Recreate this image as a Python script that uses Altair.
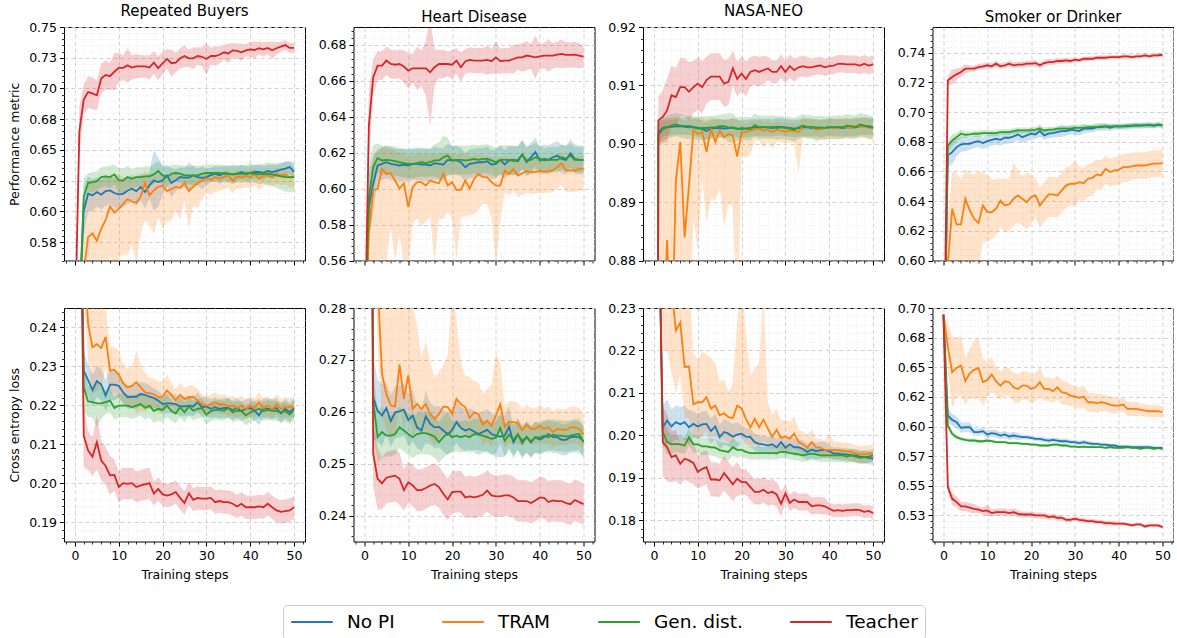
import altair as alt
import pandas as pd

steps = list(range(51))
methods = ["No PI", "TRAM", "Gen. dist.", "Teacher"]
palette = ["#1f77b4", "#ff7f0e", "#2ca02c", "#d62728"]
titles = ["Repeated Buyers", "Heart Disease", "NASA-NEO", "Smoker or Drinker"]
x_major = [0, 10, 20, 30, 40, 50]
x_minor = [-2, 2, 4, 6, 8, 12, 14, 16, 18, 22, 24, 26, 28, 32, 34, 36, 38, 42, 44, 46, 48, 52]

# ---------------- y ticks ----------------
rb_perf_ticks = [0.575, 0.600, 0.625, 0.650, 0.675, 0.700, 0.725, 0.750]
rb_perf_labels = ["0.58", "0.60", "0.62", "0.65", "0.68", "0.70", "0.73", "0.75"]
hd_perf_ticks = [0.56, 0.58, 0.60, 0.62, 0.64, 0.66, 0.68]
hd_perf_labels = ["0.56", "0.58", "0.60", "0.62", "0.64", "0.66", "0.68"]
nasa_perf_ticks = [0.88, 0.89, 0.90, 0.91, 0.92]
nasa_perf_labels = ["0.88", "0.89", "0.90", "0.91", "0.92"]
sd_perf_ticks = [0.60, 0.62, 0.64, 0.66, 0.68, 0.70, 0.72, 0.74]
sd_perf_labels = ["0.60", "0.62", "0.64", "0.66", "0.68", "0.70", "0.72", "0.74"]
rb_loss_ticks = [0.19, 0.20, 0.21, 0.22, 0.23, 0.24]
rb_loss_labels = ["0.19", "0.20", "0.21", "0.22", "0.23", "0.24"]
hd_loss_ticks = [0.24, 0.25, 0.26, 0.27, 0.28]
hd_loss_labels = ["0.24", "0.25", "0.26", "0.27", "0.28"]
nasa_loss_ticks = [0.18, 0.19, 0.20, 0.21, 0.22, 0.23]
nasa_loss_labels = ["0.18", "0.19", "0.20", "0.21", "0.22", "0.23"]
sd_loss_ticks = [0.525, 0.550, 0.575, 0.600, 0.625, 0.650, 0.675, 0.700]
sd_loss_labels = ["0.53", "0.55", "0.57", "0.60", "0.62", "0.65", "0.68", "0.70"]

# ---------------- Repeated Buyers: performance ----------------
rb_perf_nopi = [
    0.500, 0.520, 0.600, 0.6143, 0.6130, 0.6157, 0.6135, 0.6165, 0.6170, 0.6149,
    0.6138, 0.6143, 0.6170, 0.6184, 0.6165, 0.6197, 0.6157, 0.6211, 0.6252, 0.6238,
    0.6252, 0.6292, 0.6230, 0.6252, 0.6279, 0.6275, 0.6275, 0.6292, 0.6279, 0.6272,
    0.6279, 0.6295, 0.6306, 0.6292, 0.6312, 0.6306, 0.6300, 0.6306, 0.6320, 0.6306,
    0.6312, 0.6320, 0.6320, 0.6312, 0.6328, 0.6320, 0.6328, 0.6340, 0.6347, 0.6360,
    0.6320]
rb_perf_tram = [
    0.500, 0.520, 0.550, 0.579, 0.582, 0.576, 0.586, 0.593, 0.604, 0.599,
    0.602, 0.606, 0.610, 0.608, 0.607, 0.612, 0.623, 0.613, 0.617, 0.620,
    0.621, 0.6165, 0.618, 0.620, 0.619, 0.623, 0.6165, 0.620, 0.623, 0.625,
    0.627, 0.6255, 0.628, 0.6265, 0.628, 0.629, 0.625, 0.6285, 0.6275, 0.629,
    0.6275, 0.6305, 0.6265, 0.629, 0.629, 0.628, 0.6305, 0.629, 0.630, 0.6275,
    0.628]
rb_perf_gen = [
    0.500, 0.520, 0.612, 0.6230, 0.6238, 0.6245, 0.6279, 0.6285, 0.6279, 0.6301,
    0.6252, 0.6252, 0.6279, 0.6265, 0.6279, 0.6279, 0.6285, 0.6285, 0.6301, 0.6328,
    0.6292, 0.6279, 0.6306, 0.6312, 0.6306, 0.6292, 0.6292, 0.6292, 0.6292, 0.6306,
    0.6312, 0.6312, 0.6312, 0.6312, 0.6306, 0.6306, 0.6301, 0.6306, 0.6306, 0.6306,
    0.6312, 0.6306, 0.6301, 0.6306, 0.6306, 0.6301, 0.6292, 0.6285, 0.6279, 0.6279,
    0.6279]
rb_perf_teacher = [
    0.500, 0.665, 0.691, 0.697, 0.696, 0.6945, 0.708, 0.711, 0.710, 0.7136,
    0.7168, 0.7168, 0.7188, 0.717, 0.718, 0.718, 0.718, 0.717, 0.721, 0.7165,
    0.7205, 0.724, 0.7205, 0.721, 0.7245, 0.7264, 0.7245, 0.7245, 0.7264, 0.7258,
    0.724, 0.7264, 0.7264, 0.7274, 0.7294, 0.7285, 0.731, 0.7305, 0.7294, 0.731,
    0.7318, 0.7313, 0.7327, 0.7318, 0.733, 0.731, 0.7327, 0.734, 0.7353, 0.733,
    0.733]
rb_perf_nopi_sd = [
    0.020, 0.020, 0.020, 0.014, 0.013, 0.012, 0.012, 0.012, 0.011, 0.012,
    0.012, 0.011, 0.011, 0.011, 0.012, 0.011, 0.013, 0.011, 0.025, 0.020,
    0.012, 0.009, 0.012, 0.009, 0.008, 0.008, 0.012, 0.008, 0.007, 0.009,
    0.007, 0.006, 0.006, 0.007, 0.006, 0.006, 0.007, 0.006, 0.006, 0.006,
    0.006, 0.006, 0.006, 0.006, 0.005, 0.006, 0.005, 0.005, 0.006, 0.005,
    0.005]
rb_perf_tram_dn = [
    0.050, 0.050, 0.050, 0.040, 0.035, 0.040, 0.040, 0.040, 0.040, 0.045,
    0.040, 0.040, 0.045, 0.035, 0.050, 0.030, 0.030, 0.025, 0.035, 0.025,
    0.035, 0.025, 0.025, 0.020, 0.025, 0.015, 0.030, 0.015, 0.020, 0.015,
    0.012, 0.012, 0.012, 0.010, 0.010, 0.010, 0.010, 0.010, 0.009, 0.009,
    0.009, 0.009, 0.009, 0.008, 0.008, 0.008, 0.008, 0.008, 0.008, 0.008,
    0.008]
rb_perf_tram_up = [
    0.030, 0.030, 0.030, 0.045, 0.043, 0.050, 0.040, 0.035, 0.025, 0.030,
    0.028, 0.022, 0.018, 0.020, 0.020, 0.016, 0.010, 0.016, 0.012, 0.010,
    0.010, 0.013, 0.012, 0.010, 0.010, 0.008, 0.012, 0.009, 0.007, 0.006,
    0.005, 0.005, 0.005, 0.005, 0.005, 0.005, 0.006, 0.005, 0.005, 0.005,
    0.005, 0.005, 0.005, 0.005, 0.005, 0.005, 0.005, 0.005, 0.005, 0.005,
    0.005]
rb_perf_gen_sd = [
    0.020, 0.020, 0.015, 0.008, 0.008, 0.008, 0.008, 0.008, 0.009, 0.008,
    0.010, 0.010, 0.009, 0.008, 0.008, 0.008, 0.008, 0.008, 0.008, 0.008,
    0.008, 0.008, 0.007, 0.007, 0.007, 0.008, 0.007, 0.008, 0.008, 0.007,
    0.007, 0.007, 0.007, 0.007, 0.007, 0.007, 0.008, 0.007, 0.007, 0.007,
    0.008, 0.007, 0.008, 0.008, 0.009, 0.009, 0.010, 0.011, 0.012, 0.012,
    0.012]
rb_perf_teacher_sd = [
    0.010, 0.020, 0.012, 0.013, 0.013, 0.012, 0.012, 0.012, 0.011, 0.015,
    0.012, 0.010, 0.014, 0.010, 0.010, 0.009, 0.009, 0.010, 0.009, 0.010,
    0.009, 0.008, 0.011, 0.008, 0.008, 0.009, 0.007, 0.009, 0.007, 0.008,
    0.013, 0.007, 0.008, 0.007, 0.006, 0.008, 0.006, 0.006, 0.007, 0.005,
    0.006, 0.007, 0.005, 0.006, 0.005, 0.007, 0.005, 0.004, 0.004, 0.004,
    0.004]

# ---------------- Heart Disease: performance ----------------
hd_perf_nopi = [
    0.500, 0.590, 0.6027, 0.6129, 0.6138, 0.6147, 0.6138, 0.6134, 0.6129, 0.6134,
    0.6129, 0.6138, 0.6138, 0.6134, 0.6134, 0.6129, 0.6142, 0.6138, 0.6134, 0.6160,
    0.6157, 0.6157, 0.6147, 0.6119, 0.6138, 0.6142, 0.6147, 0.6147, 0.6153, 0.6134,
    0.6138, 0.6160, 0.6134, 0.6157, 0.6160, 0.6153, 0.6190, 0.6147, 0.6175, 0.6203,
    0.6157, 0.6166, 0.6160, 0.6175, 0.6184, 0.6166, 0.6160, 0.6197, 0.6166, 0.6160,
    0.6160]
hd_perf_tram = [
    0.500, 0.575, 0.599, 0.600, 0.611, 0.6082, 0.6086, 0.6045, 0.600, 0.603,
    0.5897, 0.6008, 0.6036, 0.6036, 0.6017, 0.6045, 0.6036, 0.603, 0.6082, 0.6017,
    0.6036, 0.5993, 0.5993, 0.6045, 0.600, 0.6054, 0.6082, 0.6064, 0.6064, 0.6036,
    0.6017, 0.6017, 0.6101, 0.6082, 0.611, 0.6073, 0.6086, 0.6097, 0.6092, 0.6092,
    0.6097, 0.6095, 0.6097, 0.6101, 0.612, 0.6142, 0.6101, 0.6101, 0.6101, 0.611,
    0.611]
hd_perf_gen = [
    0.500, 0.595, 0.612, 0.6171, 0.6157, 0.6160, 0.6157, 0.6153, 0.6147, 0.6142,
    0.6138, 0.6138, 0.6142, 0.6147, 0.6142, 0.6147, 0.6157, 0.6157, 0.6175, 0.6184,
    0.6157, 0.6160, 0.6160, 0.6157, 0.6160, 0.6166, 0.6160, 0.6166, 0.6166, 0.6157,
    0.6147, 0.6160, 0.6160, 0.6160, 0.6153, 0.6160, 0.6190, 0.6157, 0.6160, 0.6175,
    0.6166, 0.6157, 0.6160, 0.6160, 0.6160, 0.6175, 0.6166, 0.6184, 0.6160, 0.6160,
    0.6160]
hd_perf_teacher = [
    0.500, 0.635, 0.662, 0.6685, 0.6685, 0.6713, 0.6694, 0.669, 0.6694, 0.668,
    0.6657, 0.667, 0.667, 0.667, 0.667, 0.6648, 0.6676, 0.6694, 0.6694, 0.6694,
    0.669, 0.6713, 0.6676, 0.6708, 0.6717, 0.6713, 0.6713, 0.6713, 0.6717, 0.671,
    0.6731, 0.671, 0.6713, 0.6713, 0.6722, 0.6731, 0.6731, 0.6741, 0.6736, 0.6731,
    0.6736, 0.6741, 0.6741, 0.6741, 0.6746, 0.675, 0.6745, 0.6745, 0.6746, 0.6741,
    0.6735]
hd_perf_nopi_sd = [
    0.020, 0.020, 0.015, 0.009, 0.009, 0.009, 0.009, 0.009, 0.009, 0.009,
    0.009, 0.009, 0.009, 0.009, 0.009, 0.009, 0.009, 0.009, 0.009, 0.009,
    0.008, 0.008, 0.008, 0.008, 0.008, 0.008, 0.008, 0.008, 0.008, 0.008,
    0.008, 0.008, 0.008, 0.008, 0.008, 0.008, 0.008, 0.008, 0.008, 0.008,
    0.008, 0.008, 0.008, 0.008, 0.008, 0.008, 0.008, 0.008, 0.008, 0.008,
    0.008]
hd_perf_tram_dn = [
    0.040, 0.040, 0.040, 0.040, 0.050, 0.050, 0.030, 0.045, 0.025, 0.045,
    0.035, 0.020, 0.020, 0.025, 0.020, 0.020, 0.045, 0.020, 0.025, 0.015,
    0.020, 0.040, 0.015, 0.020, 0.015, 0.020, 0.020, 0.015, 0.015, 0.020,
    0.045, 0.020, 0.012, 0.012, 0.012, 0.012, 0.012, 0.012, 0.012, 0.012,
    0.012, 0.012, 0.012, 0.012, 0.012, 0.012, 0.012, 0.012, 0.012, 0.012,
    0.012]
hd_perf_tram_up = [
    0.020, 0.020, 0.020, 0.020, 0.012, 0.014, 0.014, 0.016, 0.020, 0.017,
    0.028, 0.018, 0.016, 0.016, 0.018, 0.015, 0.016, 0.016, 0.012, 0.018,
    0.016, 0.020, 0.020, 0.015, 0.018, 0.013, 0.011, 0.012, 0.012, 0.014,
    0.016, 0.016, 0.008, 0.009, 0.007, 0.009, 0.008, 0.008, 0.008, 0.008,
    0.008, 0.008, 0.008, 0.008, 0.007, 0.006, 0.007, 0.007, 0.007, 0.007,
    0.007]
hd_perf_gen_sd = [
    0.020, 0.020, 0.012, 0.008, 0.008, 0.008, 0.008, 0.008, 0.008, 0.008,
    0.008, 0.008, 0.008, 0.008, 0.008, 0.008, 0.009, 0.010, 0.012, 0.010,
    0.008, 0.008, 0.008, 0.008, 0.008, 0.008, 0.008, 0.008, 0.008, 0.008,
    0.008, 0.008, 0.008, 0.008, 0.008, 0.008, 0.008, 0.008, 0.008, 0.008,
    0.007, 0.007, 0.007, 0.007, 0.007, 0.007, 0.007, 0.007, 0.007, 0.007,
    0.007]
hd_perf_teacher_sd = [
    0.010, 0.020, 0.010, 0.008, 0.008, 0.008, 0.008, 0.008, 0.008, 0.009,
    0.010, 0.008, 0.012, 0.010, 0.015, 0.030, 0.010, 0.008, 0.008, 0.007,
    0.008, 0.007, 0.008, 0.007, 0.007, 0.007, 0.007, 0.007, 0.008, 0.007,
    0.009, 0.007, 0.007, 0.007, 0.008, 0.007, 0.008, 0.008, 0.007, 0.012,
    0.007, 0.007, 0.009, 0.007, 0.007, 0.008, 0.007, 0.007, 0.007, 0.007,
    0.006]

# ---------------- NASA-NEO: performance ----------------
nasa_perf_nopi = [
    0.500, 0.9020, 0.9027, 0.9029, 0.9029, 0.9030, 0.9030, 0.9030, 0.9030, 0.9029,
    0.9027, 0.9025, 0.9022, 0.9026, 0.9027, 0.9027, 0.9026, 0.9027, 0.9028, 0.9026,
    0.9025, 0.9026, 0.9027, 0.9028, 0.9028, 0.9028, 0.9028, 0.9027, 0.9029, 0.9029,
    0.9028, 0.9027, 0.9026, 0.9027, 0.9028, 0.9028, 0.9027, 0.9028, 0.9026, 0.9027,
    0.9029, 0.9028, 0.9028, 0.9027, 0.9028, 0.9028, 0.9028, 0.9030, 0.9030, 0.9030,
    0.9029]
nasa_perf_tram = [
    0.500, 0.860, 0.865, 0.8835, 0.862, 0.8937, 0.9003, 0.884, 0.893, 0.9023,
    0.9017, 0.902, 0.8986, 0.9026, 0.9003, 0.9023, 0.9011, 0.9017, 0.9014, 0.8978,
    0.902, 0.902, 0.9023, 0.9024, 0.9026, 0.9022, 0.9024, 0.902, 0.9024, 0.9022,
    0.9021, 0.9022, 0.9022, 0.902, 0.9031, 0.9029, 0.9029, 0.9024, 0.9026, 0.9027,
    0.9028, 0.9028, 0.9027, 0.9029, 0.9029, 0.9027, 0.9031, 0.9029, 0.9031, 0.9027,
    0.9029]
nasa_perf_gen = [
    0.500, 0.9015, 0.9025, 0.9028, 0.9031, 0.9033, 0.9031, 0.9029, 0.9028, 0.9028,
    0.9026, 0.9027, 0.9027, 0.9028, 0.9028, 0.9030, 0.9030, 0.9028, 0.9027, 0.9025,
    0.9027, 0.9026, 0.9025, 0.9032, 0.9028, 0.9029, 0.9028, 0.9029, 0.9027, 0.9028,
    0.9027, 0.9026, 0.9024, 0.9028, 0.9031, 0.9029, 0.9029, 0.9027, 0.9028, 0.9027,
    0.9028, 0.9028, 0.9029, 0.9028, 0.9031, 0.9030, 0.9028, 0.9033, 0.9031, 0.9029,
    0.9027]
nasa_perf_teacher = [
    0.500, 0.9040, 0.9046, 0.9057, 0.9083, 0.9080, 0.9097, 0.9097, 0.9089, 0.9097,
    0.9103, 0.9097, 0.9109, 0.9115, 0.9115, 0.9115, 0.9103, 0.9106, 0.9129, 0.9111,
    0.9120, 0.9111, 0.9123, 0.9126, 0.9123, 0.9126, 0.9129, 0.9123, 0.9123, 0.9133,
    0.9123, 0.9133, 0.9126, 0.9131, 0.9133, 0.9131, 0.9131, 0.9133, 0.9134, 0.9131,
    0.9133, 0.9134, 0.9137, 0.9137, 0.9136, 0.9136, 0.9136, 0.9134, 0.9137, 0.9134,
    0.9136]
nasa_perf_nopi_sd = [
    0.002, 0.002, 0.0015, 0.0015, 0.0015, 0.0015, 0.0015, 0.0015, 0.0015, 0.0015,
    0.0015, 0.0015, 0.0015, 0.0015, 0.0015, 0.0015, 0.0015, 0.0015, 0.0015, 0.0015,
    0.0015, 0.0015, 0.0015, 0.0015, 0.0015, 0.0015, 0.0015, 0.0015, 0.0015, 0.0015,
    0.0015, 0.0015, 0.0015, 0.0015, 0.0015, 0.0015, 0.0015, 0.0015, 0.0015, 0.0015,
    0.0015, 0.0015, 0.0015, 0.0015, 0.0015, 0.0015, 0.0015, 0.0015, 0.0015, 0.0015,
    0.0015]
nasa_perf_tram_dn = [
    0.050, 0.030, 0.030, 0.030, 0.030, 0.030, 0.030, 0.030, 0.030, 0.015,
    0.020, 0.008, 0.012, 0.012, 0.010, 0.010, 0.015, 0.012, 0.012, 0.030,
    0.004, 0.0045, 0.004, 0.002, 0.002, 0.003, 0.002, 0.003, 0.002, 0.002,
    0.002, 0.002, 0.002, 0.007, 0.002, 0.002, 0.002, 0.002, 0.002, 0.002,
    0.002, 0.002, 0.002, 0.002, 0.002, 0.002, 0.002, 0.002, 0.002, 0.002,
    0.002]
nasa_perf_tram_up = [
    0.010, 0.044, 0.039, 0.0205, 0.042, 0.0105, 0.004, 0.020, 0.011, 0.002,
    0.003, 0.0025, 0.0055, 0.002, 0.004, 0.002, 0.003, 0.0025, 0.003, 0.0065,
    0.0015, 0.0015, 0.0015, 0.0015, 0.0015, 0.0015, 0.0015, 0.0015, 0.0015, 0.0015,
    0.0015, 0.0015, 0.0015, 0.0015, 0.0015, 0.0015, 0.0015, 0.0015, 0.0015, 0.0015,
    0.0015, 0.0015, 0.0015, 0.0015, 0.0015, 0.0015, 0.0015, 0.0015, 0.0015, 0.0015,
    0.0015]
nasa_perf_gen_sd = [
    0.002, 0.002, 0.002, 0.002, 0.002, 0.002, 0.002, 0.002, 0.002, 0.002,
    0.002, 0.002, 0.002, 0.002, 0.002, 0.002, 0.002, 0.0025, 0.0025, 0.002,
    0.002, 0.002, 0.002, 0.002, 0.002, 0.002, 0.002, 0.002, 0.002, 0.002,
    0.002, 0.002, 0.002, 0.002, 0.002, 0.002, 0.002, 0.002, 0.002, 0.002,
    0.002, 0.002, 0.002, 0.002, 0.002, 0.002, 0.002, 0.002, 0.002, 0.002,
    0.002]
nasa_perf_teacher_sd = [
    0.003, 0.004, 0.0045, 0.0055, 0.005, 0.005, 0.005, 0.005, 0.005, 0.0045,
    0.0045, 0.0045, 0.004, 0.004, 0.004, 0.004, 0.004, 0.004, 0.003, 0.003,
    0.003, 0.003, 0.0025, 0.0025, 0.0025, 0.0025, 0.002, 0.002, 0.002, 0.002,
    0.002, 0.002, 0.002, 0.0018, 0.0018, 0.0018, 0.0015, 0.0015, 0.0015, 0.0015,
    0.0015, 0.0015, 0.0015, 0.0015, 0.0015, 0.0015, 0.0015, 0.0015, 0.0015, 0.0015,
    0.0015]

# ---------------- Smoker or Drinker: performance ----------------
sd_perf_nopi = [
    0.500, 0.6708, 0.6730, 0.6764, 0.6782, 0.6786, 0.6786, 0.6798, 0.6804, 0.6791,
    0.6804, 0.6813, 0.6820, 0.6813, 0.6827, 0.6827, 0.6836, 0.6849, 0.6831, 0.6843,
    0.6854, 0.6849, 0.6872, 0.6843, 0.6854, 0.6858, 0.6865, 0.6872, 0.6872, 0.6881,
    0.6876, 0.6872, 0.6888, 0.6888, 0.6888, 0.6899, 0.6899, 0.6903, 0.6894, 0.6903,
    0.6903, 0.6903, 0.6903, 0.6908, 0.6910, 0.6908, 0.6912, 0.6915, 0.6908, 0.6917,
    0.6908]
sd_perf_tram = [
    0.500, 0.598, 0.6348, 0.6243, 0.6243, 0.6416, 0.6337, 0.6281, 0.6252, 0.6371,
    0.6326, 0.6326, 0.6348, 0.6404, 0.6371, 0.6377, 0.6416, 0.6438, 0.6416, 0.6393,
    0.6427, 0.6438, 0.6371, 0.6409, 0.6445, 0.6445, 0.6438, 0.6472, 0.6506, 0.6517,
    0.6517, 0.6528, 0.6521, 0.6551, 0.6557, 0.6580, 0.6573, 0.6618, 0.6596, 0.6607,
    0.6611, 0.6629, 0.6629, 0.6634, 0.6640, 0.6640, 0.6640, 0.6647, 0.6652, 0.6652,
    0.6656]
sd_perf_gen = [
    0.500, 0.6771, 0.6809, 0.6831, 0.6854, 0.6847, 0.6849, 0.6854, 0.6854, 0.6858,
    0.6858, 0.6858, 0.6858, 0.6865, 0.6865, 0.6865, 0.6872, 0.6876, 0.6876, 0.6876,
    0.6876, 0.6881, 0.6888, 0.6876, 0.6881, 0.6881, 0.6888, 0.6888, 0.6888, 0.6888,
    0.6894, 0.6894, 0.6894, 0.6899, 0.6899, 0.6899, 0.6903, 0.6903, 0.6903, 0.6903,
    0.6903, 0.6903, 0.6908, 0.6908, 0.6910, 0.6910, 0.6910, 0.6910, 0.6910, 0.6912,
    0.6912]
sd_perf_teacher = [
    0.500, 0.7213, 0.7236, 0.7254, 0.7270, 0.7292, 0.7292, 0.7292, 0.7303, 0.7308,
    0.7315, 0.7308, 0.7326, 0.7308, 0.7315, 0.7326, 0.7315, 0.7320, 0.7320, 0.7326,
    0.7326, 0.7330, 0.7315, 0.7330, 0.7337, 0.7337, 0.7344, 0.7344, 0.7348, 0.7344,
    0.7353, 0.7348, 0.7359, 0.7359, 0.7359, 0.7366, 0.7366, 0.7366, 0.7370, 0.7370,
    0.7370, 0.7375, 0.7375, 0.7370, 0.7375, 0.7375, 0.7382, 0.7375, 0.7382, 0.7382,
    0.7386]
sd_perf_nopi_sd = [
    0.010, 0.008, 0.008, 0.006, 0.005, 0.005, 0.004, 0.004, 0.004, 0.004,
    0.004, 0.004, 0.004, 0.004, 0.004, 0.004, 0.004, 0.004, 0.004, 0.004,
    0.004, 0.003, 0.004, 0.003, 0.003, 0.003, 0.003, 0.004, 0.003, 0.003,
    0.003, 0.003, 0.003, 0.0025, 0.0025, 0.0025, 0.0025, 0.0025, 0.002, 0.002,
    0.002, 0.002, 0.002, 0.002, 0.002, 0.002, 0.002, 0.002, 0.002, 0.002,
    0.002]
sd_perf_tram_dn = [
    0.030, 0.030, 0.035, 0.030, 0.030, 0.040, 0.035, 0.035, 0.030, 0.025,
    0.020, 0.018, 0.018, 0.018, 0.018, 0.018, 0.018, 0.018, 0.018, 0.018,
    0.018, 0.015, 0.015, 0.015, 0.015, 0.015, 0.015, 0.015, 0.015, 0.015,
    0.015, 0.012, 0.012, 0.012, 0.012, 0.010, 0.010, 0.010, 0.010, 0.010,
    0.010, 0.010, 0.010, 0.009, 0.009, 0.009, 0.009, 0.009, 0.009, 0.009,
    0.009]
sd_perf_tram_up = [
    0.030, 0.030, 0.025, 0.035, 0.030, 0.020, 0.025, 0.030, 0.035, 0.022,
    0.025, 0.022, 0.020, 0.015, 0.018, 0.017, 0.024, 0.017, 0.015, 0.020,
    0.015, 0.012, 0.012, 0.012, 0.012, 0.012, 0.012, 0.012, 0.012, 0.012,
    0.016, 0.010, 0.010, 0.010, 0.010, 0.010, 0.010, 0.009, 0.009, 0.009,
    0.009, 0.009, 0.009, 0.009, 0.009, 0.009, 0.009, 0.009, 0.009, 0.009,
    0.009]
sd_perf_gen_sd = [
    0.005, 0.004, 0.004, 0.003, 0.003, 0.002, 0.002, 0.002, 0.002, 0.002,
    0.002, 0.002, 0.002, 0.002, 0.002, 0.002, 0.002, 0.002, 0.002, 0.002,
    0.002, 0.002, 0.002, 0.002, 0.002, 0.002, 0.002, 0.002, 0.002, 0.002,
    0.002, 0.002, 0.002, 0.0015, 0.0015, 0.0015, 0.0015, 0.0015, 0.0015, 0.0015,
    0.0015, 0.0015, 0.0015, 0.0015, 0.0015, 0.0015, 0.0015, 0.0015, 0.0015, 0.0015,
    0.0015]
sd_perf_teacher_sd = [
    0.004, 0.003, 0.005, 0.004, 0.003, 0.003, 0.002, 0.002, 0.002, 0.002,
    0.002, 0.002, 0.002, 0.002, 0.002, 0.002, 0.002, 0.002, 0.002, 0.002,
    0.002, 0.002, 0.002, 0.002, 0.002, 0.0018, 0.0018, 0.0018, 0.0018, 0.0018,
    0.0015, 0.0015, 0.0015, 0.0015, 0.0015, 0.0015, 0.0015, 0.0015, 0.0015, 0.0015,
    0.0015, 0.0015, 0.0015, 0.0015, 0.0015, 0.0015, 0.0015, 0.0015, 0.0015, 0.0015,
    0.0015]

# ---------------- Repeated Buyers: loss ----------------
rb_loss_nopi = [
    0.600, 0.300, 0.2289, 0.2265, 0.2239, 0.2262, 0.2253, 0.2225, 0.2253, 0.2253,
    0.2250, 0.2233, 0.2221, 0.2222, 0.2222, 0.2229, 0.2227, 0.2222, 0.2219, 0.2212,
    0.2203, 0.2205, 0.2205, 0.2203, 0.2197, 0.2197, 0.2199, 0.2197, 0.2208, 0.2195,
    0.2197, 0.2191, 0.2195, 0.2191, 0.2193, 0.2193, 0.2188, 0.2193, 0.2185, 0.2191,
    0.2193, 0.2186, 0.2174, 0.2193, 0.2191, 0.2191, 0.2193, 0.2179, 0.2191, 0.2182,
    0.2193]
rb_loss_tram = [
    0.600, 0.320, 0.260, 0.2409, 0.2349, 0.2357, 0.2347, 0.2376, 0.2289, 0.2291,
    0.2279, 0.2256, 0.2246, 0.2250, 0.2259, 0.2246, 0.2233, 0.2231, 0.2229, 0.2221,
    0.2222, 0.2238, 0.2227, 0.2212, 0.2227, 0.2216, 0.2221, 0.2222, 0.2212, 0.2203,
    0.2199, 0.2202, 0.2208, 0.2202, 0.2203, 0.2197, 0.2199, 0.2193, 0.2199, 0.2188,
    0.2199, 0.2193, 0.2208, 0.2193, 0.2199, 0.2188, 0.2203, 0.2191, 0.2195, 0.2195,
    0.2195]
rb_loss_gen = [
    0.600, 0.300, 0.2246, 0.2210, 0.2208, 0.2205, 0.2205, 0.2208, 0.2212, 0.2193,
    0.2199, 0.2199, 0.2199, 0.2195, 0.2199, 0.2203, 0.2193, 0.2199, 0.2185, 0.2191,
    0.2188, 0.2199, 0.2186, 0.2179, 0.2195, 0.2182, 0.2197, 0.2186, 0.2191, 0.2193,
    0.2176, 0.2185, 0.2188, 0.2188, 0.2186, 0.2193, 0.2182, 0.2186, 0.2185, 0.2174,
    0.2182, 0.2186, 0.2191, 0.2185, 0.2188, 0.2186, 0.2185, 0.2182, 0.2185, 0.2176,
    0.2188]
rb_loss_teacher = [
    0.600, 0.300, 0.2122, 0.2084, 0.2068, 0.2105, 0.2058, 0.2044, 0.2020, 0.2021,
    0.1990, 0.2000, 0.1998, 0.2000, 0.1990, 0.1994, 0.1997, 0.2000, 0.1973, 0.1985,
    0.1971, 0.1968, 0.1971, 0.1977, 0.1962, 0.1949, 0.1974, 0.1957, 0.1962, 0.1960,
    0.1960, 0.1962, 0.1951, 0.1954, 0.1951, 0.1951, 0.1947, 0.1940, 0.1947, 0.1938,
    0.1938, 0.1938, 0.1940, 0.1938, 0.1947, 0.1938, 0.1930, 0.1926, 0.1928, 0.1930,
    0.1938]
rb_loss_nopi_sd = [
    0.010, 0.010, 0.005, 0.004, 0.004, 0.004, 0.004, 0.004, 0.004, 0.004,
    0.003, 0.003, 0.003, 0.003, 0.003, 0.003, 0.003, 0.003, 0.0025, 0.0025,
    0.0025, 0.0025, 0.0025, 0.0025, 0.0025, 0.0025, 0.0025, 0.0025, 0.0025, 0.0025,
    0.0025, 0.0025, 0.0025, 0.0025, 0.0025, 0.0025, 0.0025, 0.0025, 0.0025, 0.0025,
    0.0025, 0.0025, 0.0025, 0.0025, 0.0025, 0.0025, 0.0025, 0.0025, 0.0025, 0.0025,
    0.0025]
rb_loss_tram_sd = [
    0.010, 0.010, 0.010, 0.010, 0.012, 0.012, 0.010, 0.008, 0.006, 0.006,
    0.006, 0.005, 0.005, 0.005, 0.008, 0.006, 0.005, 0.004, 0.004, 0.004,
    0.004, 0.004, 0.003, 0.003, 0.003, 0.003, 0.003, 0.003, 0.003, 0.0025,
    0.0025, 0.0025, 0.0025, 0.0025, 0.0025, 0.0025, 0.0025, 0.0025, 0.0025, 0.0025,
    0.0025, 0.0025, 0.0025, 0.0025, 0.0025, 0.0025, 0.0025, 0.0025, 0.0025, 0.0025,
    0.0025]
rb_loss_gen_sd = [
    0.010, 0.010, 0.006, 0.004, 0.004, 0.006, 0.004, 0.003, 0.003, 0.003,
    0.003, 0.003, 0.003, 0.003, 0.003, 0.003, 0.003, 0.003, 0.003, 0.003,
    0.003, 0.003, 0.0025, 0.0025, 0.0025, 0.0025, 0.0025, 0.0025, 0.0025, 0.0025,
    0.0025, 0.0025, 0.0025, 0.0025, 0.0025, 0.0025, 0.0025, 0.0025, 0.0025, 0.0025,
    0.0025, 0.0025, 0.0025, 0.0025, 0.0025, 0.0025, 0.0025, 0.0025, 0.0025, 0.0025,
    0.0025]
rb_loss_teacher_sd = [
    0.010, 0.010, 0.008, 0.005, 0.005, 0.007, 0.005, 0.005, 0.005, 0.004,
    0.004, 0.004, 0.004, 0.004, 0.004, 0.004, 0.004, 0.004, 0.003, 0.003,
    0.003, 0.003, 0.003, 0.003, 0.003, 0.003, 0.003, 0.003, 0.003, 0.003,
    0.003, 0.003, 0.003, 0.003, 0.003, 0.003, 0.003, 0.003, 0.003, 0.003,
    0.003, 0.003, 0.003, 0.003, 0.003, 0.003, 0.003, 0.003, 0.003, 0.003,
    0.003]

# ---------------- Heart Disease: loss ----------------
hd_loss_nopi = [
    0.690, 0.400, 0.2628, 0.2602, 0.2593, 0.2607, 0.2582, 0.2599, 0.2601, 0.2604,
    0.2584, 0.2593, 0.2570, 0.2564, 0.2591, 0.2577, 0.2570, 0.2571, 0.2564, 0.2556,
    0.2565, 0.2580, 0.2569, 0.2564, 0.2567, 0.2562, 0.2557, 0.2561, 0.2565, 0.2557,
    0.2554, 0.2552, 0.2554, 0.2571, 0.2541, 0.2556, 0.2544, 0.2551, 0.2541, 0.2551,
    0.2546, 0.2551, 0.2557, 0.2551, 0.2551, 0.2546, 0.2546, 0.2551, 0.2552, 0.2551,
    0.2544]
hd_loss_tram = [
    0.690, 0.450, 0.320, 0.285, 0.2673, 0.2634, 0.2612, 0.2610, 0.2691, 0.2625,
    0.2670, 0.2605, 0.2615, 0.2605, 0.2615, 0.2596, 0.2586, 0.2596, 0.2610, 0.2609,
    0.2596, 0.2625, 0.2615, 0.2609, 0.2588, 0.2599, 0.2596, 0.2575, 0.2583, 0.2573,
    0.2593, 0.2614, 0.2571, 0.2580, 0.2580, 0.2578, 0.2564, 0.2575, 0.2567, 0.2567,
    0.2573, 0.2567, 0.2570, 0.2561, 0.2567, 0.2565, 0.2565, 0.2570, 0.2570, 0.2567,
    0.2557]
hd_loss_gen = [
    0.690, 0.400, 0.2620, 0.2551, 0.2561, 0.2554, 0.2554, 0.2557, 0.2570, 0.2564,
    0.2557, 0.2551, 0.2557, 0.2559, 0.2559, 0.2556, 0.2552, 0.2541, 0.2551, 0.2559,
    0.2551, 0.2554, 0.2551, 0.2554, 0.2551, 0.2557, 0.2556, 0.2554, 0.2551, 0.2548,
    0.2550, 0.2569, 0.2544, 0.2556, 0.2546, 0.2557, 0.2539, 0.2552, 0.2543, 0.2551,
    0.2550, 0.2554, 0.2551, 0.2556, 0.2554, 0.2554, 0.2552, 0.2554, 0.2556, 0.2557,
    0.2541]
hd_loss_teacher = [
    0.690, 0.400, 0.2519, 0.2471, 0.2462, 0.2473, 0.2475, 0.2477, 0.2471, 0.2449,
    0.2464, 0.2458, 0.2449, 0.2449, 0.2453, 0.2458, 0.2461, 0.2455, 0.2442, 0.2431,
    0.2445, 0.2446, 0.2446, 0.2435, 0.2437, 0.2435, 0.2437, 0.2440, 0.2448, 0.2439,
    0.2437, 0.2437, 0.2439, 0.2439, 0.2435, 0.2428, 0.2428, 0.2428, 0.2424, 0.2429,
    0.2435, 0.2434, 0.2426, 0.2429, 0.2428, 0.2428, 0.2424, 0.2422, 0.2430, 0.2426,
    0.2422]
hd_loss_nopi_sd = [
    0.010, 0.010, 0.008, 0.006, 0.006, 0.005, 0.005, 0.005, 0.005, 0.005,
    0.005, 0.005, 0.004, 0.004, 0.005, 0.004, 0.004, 0.004, 0.004, 0.004,
    0.004, 0.004, 0.004, 0.004, 0.004, 0.004, 0.004, 0.004, 0.004, 0.004,
    0.004, 0.004, 0.004, 0.004, 0.003, 0.003, 0.003, 0.003, 0.003, 0.003,
    0.003, 0.003, 0.003, 0.003, 0.003, 0.003, 0.003, 0.003, 0.003, 0.003,
    0.003]
hd_loss_tram_dn = [
    0.020, 0.020, 0.020, 0.012, 0.008, 0.007, 0.006, 0.006, 0.008, 0.006,
    0.007, 0.005, 0.005, 0.005, 0.005, 0.005, 0.005, 0.005, 0.005, 0.005,
    0.005, 0.005, 0.005, 0.005, 0.004, 0.004, 0.004, 0.004, 0.004, 0.004,
    0.004, 0.005, 0.004, 0.004, 0.004, 0.004, 0.003, 0.003, 0.003, 0.003,
    0.003, 0.003, 0.003, 0.003, 0.003, 0.003, 0.003, 0.003, 0.003, 0.003,
    0.003]
hd_loss_tram_up = [
    0.020, 0.020, 0.030, 0.030, 0.030, 0.025, 0.025, 0.025, 0.020, 0.025,
    0.020, 0.020, 0.015, 0.010, 0.012, 0.010, 0.008, 0.008, 0.008, 0.010,
    0.025, 0.015, 0.008, 0.006, 0.008, 0.006, 0.006, 0.006, 0.006, 0.008,
    0.012, 0.008, 0.004, 0.004, 0.004, 0.004, 0.004, 0.004, 0.004, 0.004,
    0.004, 0.004, 0.004, 0.004, 0.004, 0.004, 0.004, 0.004, 0.004, 0.004,
    0.004]
hd_loss_gen_sd = [
    0.010, 0.010, 0.006, 0.005, 0.005, 0.004, 0.004, 0.004, 0.004, 0.004,
    0.004, 0.004, 0.004, 0.004, 0.004, 0.004, 0.004, 0.004, 0.004, 0.004,
    0.003, 0.003, 0.003, 0.003, 0.003, 0.003, 0.003, 0.003, 0.003, 0.003,
    0.003, 0.003, 0.003, 0.003, 0.003, 0.003, 0.003, 0.003, 0.003, 0.003,
    0.003, 0.003, 0.003, 0.003, 0.003, 0.003, 0.003, 0.003, 0.003, 0.003,
    0.003]
hd_loss_teacher_sd = [
    0.010, 0.010, 0.006, 0.006, 0.005, 0.005, 0.005, 0.005, 0.005, 0.004,
    0.004, 0.004, 0.004, 0.004, 0.004, 0.004, 0.004, 0.004, 0.004, 0.004,
    0.004, 0.004, 0.004, 0.004, 0.004, 0.004, 0.004, 0.004, 0.004, 0.004,
    0.004, 0.004, 0.004, 0.004, 0.004, 0.004, 0.004, 0.004, 0.004, 0.004,
    0.004, 0.004, 0.004, 0.004, 0.004, 0.004, 0.004, 0.004, 0.004, 0.004,
    0.004]

# ---------------- NASA-NEO: loss ----------------
nasa_loss_nopi = [
    0.690, 0.260, 0.2019, 0.2035, 0.2021, 0.2031, 0.2026, 0.2031, 0.2019, 0.2027,
    0.2021, 0.2026, 0.2027, 0.2010, 0.2021, 0.1996, 0.2008, 0.2004, 0.1997, 0.2002,
    0.2004, 0.1997, 0.1996, 0.1984, 0.1980, 0.1979, 0.1976, 0.1979, 0.1972, 0.1984,
    0.1971, 0.1979, 0.1972, 0.1972, 0.1968, 0.1961, 0.1966, 0.1963, 0.1965, 0.1966,
    0.1963, 0.1957, 0.1957, 0.1955, 0.1955, 0.1953, 0.1953, 0.1950, 0.1949, 0.1947,
    0.1945]
nasa_loss_tram = [
    0.690, 0.300, 0.270, 0.250, 0.235, 0.2247, 0.2266, 0.2161, 0.2162, 0.2073,
    0.2078, 0.2078, 0.2090, 0.2063, 0.2070, 0.2047, 0.2052, 0.2043, 0.2041, 0.2070,
    0.2063, 0.2039, 0.2019, 0.2039, 0.2019, 0.2037, 0.2016, 0.1997, 0.2013, 0.1994,
    0.1997, 0.1992, 0.2004, 0.1984, 0.1979, 0.1971, 0.1984, 0.1972, 0.1971, 0.1966,
    0.1966, 0.1965, 0.1965, 0.1963, 0.1963, 0.1961, 0.1957, 0.1955, 0.1955, 0.1957,
    0.1958]
nasa_loss_gen = [
    0.690, 0.260, 0.2008, 0.1984, 0.1979, 0.1980, 0.1979, 0.1976, 0.1996, 0.1979,
    0.1979, 0.1974, 0.1974, 0.1972, 0.1971, 0.1965, 0.1963, 0.1961, 0.1972, 0.1966,
    0.1966, 0.1961, 0.1958, 0.1958, 0.1958, 0.1958, 0.1958, 0.1958, 0.1958, 0.1961,
    0.1961, 0.1958, 0.1957, 0.1955, 0.1953, 0.1955, 0.1957, 0.1955, 0.1953, 0.1953,
    0.1953, 0.1953, 0.1953, 0.1953, 0.1950, 0.1953, 0.1950, 0.1947, 0.1949, 0.1950,
    0.1953]
nasa_loss_teacher = [
    0.690, 0.260, 0.1984, 0.1972, 0.1949, 0.1953, 0.1933, 0.1945, 0.1941, 0.1935,
    0.1914, 0.1921, 0.1925, 0.1896, 0.1896, 0.1894, 0.1911, 0.1898, 0.1885, 0.1898,
    0.1890, 0.1890, 0.1878, 0.1867, 0.1867, 0.1872, 0.1864, 0.1867, 0.1861, 0.1839,
    0.1863, 0.1841, 0.1849, 0.1843, 0.1843, 0.1843, 0.1833, 0.1835, 0.1835, 0.1833,
    0.1827, 0.1822, 0.1824, 0.1822, 0.1824, 0.1824, 0.1825, 0.1824, 0.1820, 0.1822,
    0.1817]
nasa_loss_nopi_sd = [
    0.010, 0.010, 0.005, 0.005, 0.004, 0.004, 0.004, 0.004, 0.004, 0.003,
    0.003, 0.003, 0.003, 0.003, 0.003, 0.003, 0.003, 0.003, 0.003, 0.003,
    0.002, 0.002, 0.002, 0.002, 0.002, 0.002, 0.002, 0.002, 0.002, 0.002,
    0.002, 0.002, 0.002, 0.002, 0.002, 0.002, 0.002, 0.002, 0.002, 0.002,
    0.0015, 0.0015, 0.0015, 0.0015, 0.0015, 0.0015, 0.0015, 0.0015, 0.0015, 0.0015,
    0.0015]
nasa_loss_tram_dn = [
    0.050, 0.050, 0.050, 0.030, 0.020, 0.015, 0.012, 0.012, 0.012, 0.008,
    0.008, 0.008, 0.008, 0.007, 0.007, 0.006, 0.006, 0.006, 0.006, 0.007,
    0.007, 0.006, 0.005, 0.006, 0.005, 0.005, 0.004, 0.003, 0.004, 0.003,
    0.003, 0.003, 0.003, 0.002, 0.002, 0.002, 0.002, 0.002, 0.002, 0.002,
    0.002, 0.002, 0.002, 0.002, 0.002, 0.002, 0.002, 0.002, 0.002, 0.002,
    0.002]
nasa_loss_tram_up = [
    0.020, 0.020, 0.020, 0.020, 0.020, 0.020, 0.020, 0.020, 0.020, 0.012,
    0.010, 0.012, 0.010, 0.012, 0.010, 0.008, 0.008, 0.006, 0.008, 0.020,
    0.030, 0.020, 0.012, 0.012, 0.015, 0.030, 0.006, 0.005, 0.005, 0.004,
    0.004, 0.004, 0.004, 0.003, 0.003, 0.003, 0.003, 0.002, 0.002, 0.002,
    0.004, 0.002, 0.002, 0.002, 0.002, 0.002, 0.002, 0.002, 0.002, 0.002,
    0.002]
nasa_loss_gen_sd = [
    0.010, 0.010, 0.003, 0.003, 0.002, 0.002, 0.002, 0.002, 0.002, 0.002,
    0.002, 0.002, 0.002, 0.002, 0.002, 0.002, 0.002, 0.002, 0.002, 0.002,
    0.0015, 0.0015, 0.0015, 0.0015, 0.0015, 0.0015, 0.0015, 0.0015, 0.0015, 0.0015,
    0.0015, 0.0015, 0.0015, 0.0015, 0.0015, 0.0015, 0.0015, 0.0015, 0.0015, 0.0015,
    0.0015, 0.0015, 0.0015, 0.0015, 0.0015, 0.0015, 0.0015, 0.0015, 0.0015, 0.0015,
    0.0015]
nasa_loss_teacher_sd = [
    0.010, 0.010, 0.008, 0.008, 0.006, 0.006, 0.005, 0.005, 0.005, 0.005,
    0.004, 0.004, 0.004, 0.004, 0.004, 0.004, 0.004, 0.004, 0.004, 0.004,
    0.003, 0.003, 0.003, 0.003, 0.003, 0.003, 0.003, 0.003, 0.003, 0.003,
    0.002, 0.002, 0.002, 0.002, 0.002, 0.002, 0.002, 0.002, 0.002, 0.002,
    0.0015, 0.0015, 0.0015, 0.0015, 0.0015, 0.0015, 0.0015, 0.0015, 0.0015, 0.0015,
    0.0015]

# ---------------- Smoker or Drinker: loss ----------------
sd_loss_nopi = [
    0.6944, 0.6093, 0.6056, 0.6037, 0.5989, 0.5994, 0.5994, 0.5952, 0.5952, 0.5961,
    0.5933, 0.5944, 0.5938, 0.5924, 0.5933, 0.5916, 0.5924, 0.5916, 0.5910, 0.5910,
    0.5904, 0.5896, 0.5896, 0.5888, 0.5882, 0.5888, 0.5882, 0.5876, 0.5876, 0.5868,
    0.5868, 0.5860, 0.5868, 0.5860, 0.5854, 0.5854, 0.5848, 0.5848, 0.5840, 0.5840,
    0.5831, 0.5831, 0.5831, 0.5826, 0.5826, 0.5826, 0.5826, 0.5826, 0.5820, 0.5820,
    0.5820]
sd_loss_tram = [
    0.6944, 0.6669, 0.6458, 0.6494, 0.6514, 0.6382, 0.6449, 0.6478, 0.6494, 0.6374,
    0.6393, 0.6438, 0.6382, 0.6345, 0.6382, 0.6374, 0.6331, 0.6317, 0.6345, 0.6345,
    0.6317, 0.6331, 0.6374, 0.6317, 0.6317, 0.6298, 0.6331, 0.6289, 0.6281, 0.6261,
    0.6253, 0.6242, 0.6253, 0.6205, 0.6205, 0.6197, 0.6205, 0.6197, 0.6185, 0.6177,
    0.6177, 0.6185, 0.6149, 0.6149, 0.6149, 0.6140, 0.6135, 0.6129, 0.6129, 0.6129,
    0.6121]
sd_loss_gen = [
    0.6944, 0.6008, 0.5938, 0.5910, 0.5896, 0.5888, 0.5882, 0.5882, 0.5876, 0.5876,
    0.5882, 0.5876, 0.5868, 0.5868, 0.5868, 0.5860, 0.5860, 0.5860, 0.5854, 0.5854,
    0.5848, 0.5848, 0.5840, 0.5840, 0.5840, 0.5848, 0.5848, 0.5840, 0.5840, 0.5831,
    0.5831, 0.5826, 0.5831, 0.5826, 0.5826, 0.5826, 0.5826, 0.5820, 0.5826, 0.5820,
    0.5820, 0.5820, 0.5826, 0.5820, 0.5820, 0.5812, 0.5820, 0.5820, 0.5812, 0.5820,
    0.5812]
sd_loss_teacher = [
    0.6944, 0.5489, 0.5390, 0.5362, 0.5326, 0.5326, 0.5315, 0.5306, 0.5298, 0.5287,
    0.5292, 0.5270, 0.5278, 0.5278, 0.5278, 0.5270, 0.5278, 0.5264, 0.5258, 0.5258,
    0.5258, 0.5250, 0.5250, 0.5250, 0.5236, 0.5242, 0.5230, 0.5230, 0.5213, 0.5213,
    0.5222, 0.5213, 0.5208, 0.5202, 0.5202, 0.5194, 0.5194, 0.5185, 0.5185, 0.5180,
    0.5180, 0.5180, 0.5174, 0.5166, 0.5174, 0.5174, 0.5157, 0.5166, 0.5166, 0.5166,
    0.5152]
sd_loss_nopi_sd = [
    0.001, 0.006, 0.005, 0.005, 0.004, 0.004, 0.004, 0.003, 0.003, 0.003,
    0.003, 0.003, 0.003, 0.003, 0.003, 0.003, 0.003, 0.003, 0.002, 0.002,
    0.002, 0.002, 0.002, 0.002, 0.002, 0.002, 0.002, 0.002, 0.002, 0.002,
    0.002, 0.002, 0.002, 0.002, 0.002, 0.0015, 0.0015, 0.0015, 0.0015, 0.0015,
    0.0015, 0.0015, 0.0015, 0.0015, 0.0015, 0.0015, 0.0015, 0.0015, 0.0015, 0.0015,
    0.0015]
sd_loss_tram_sd = [
    0.001, 0.020, 0.030, 0.025, 0.025, 0.020, 0.020, 0.025, 0.025, 0.020,
    0.015, 0.015, 0.012, 0.012, 0.012, 0.012, 0.012, 0.012, 0.012, 0.012,
    0.012, 0.012, 0.012, 0.010, 0.010, 0.010, 0.010, 0.010, 0.010, 0.009,
    0.009, 0.009, 0.009, 0.008, 0.008, 0.008, 0.007, 0.007, 0.007, 0.007,
    0.006, 0.006, 0.006, 0.006, 0.006, 0.005, 0.005, 0.005, 0.005, 0.005,
    0.005]
sd_loss_gen_sd = [
    0.001, 0.003, 0.002, 0.002, 0.0015, 0.0015, 0.0015, 0.0015, 0.0015, 0.0015,
    0.0012, 0.0012, 0.0012, 0.0012, 0.0012, 0.0012, 0.0012, 0.0012, 0.0012, 0.0012,
    0.0012, 0.0012, 0.0012, 0.0012, 0.0012, 0.0012, 0.0012, 0.0012, 0.0012, 0.0012,
    0.001, 0.001, 0.001, 0.001, 0.001, 0.001, 0.001, 0.001, 0.001, 0.001,
    0.001, 0.001, 0.001, 0.001, 0.001, 0.001, 0.001, 0.001, 0.001, 0.001,
    0.001]
sd_loss_teacher_sd = [
    0.001, 0.004, 0.005, 0.005, 0.004, 0.004, 0.004, 0.004, 0.003, 0.003,
    0.005, 0.003, 0.003, 0.003, 0.003, 0.003, 0.003, 0.003, 0.0025, 0.0025,
    0.0025, 0.0025, 0.0025, 0.0025, 0.0025, 0.0025, 0.0025, 0.002, 0.002, 0.002,
    0.002, 0.002, 0.002, 0.002, 0.002, 0.002, 0.002, 0.002, 0.002, 0.002,
    0.0015, 0.0015, 0.0015, 0.0015, 0.0015, 0.0015, 0.0015, 0.0015, 0.0015, 0.0015,
    0.0015]

# ---------------- layout constants ----------------
PW, PH = 241, 233.5
FONT = "DejaVu Sans"
MAJOR_GRID = "#cdcdcd"
MINOR_GRID = "#e6e6e6"


def minor_ticks(lo, hi, step, majors):
    k0 = int(round(lo / step))
    k1 = int(round(hi / step))
    maj = {round(m * 10000) for m in majors}
    out = []
    for k in range(k0, k1 + 1):
        v = round(k * step, 6)
        if lo - 1e-9 <= v <= hi + 1e-9 and round(v * 10000) not in maj:
            out.append(v)
    return out


legend = alt.Legend(orient="none", legendX=219, legendY=578, direction="horizontal",
                    columns=4, title=None)
cscale = alt.Scale(domain=methods, range=palette)


def panel(means, bands, dom, ticks, labels, mstep, title=None, ytitle=None, bottom=False):
    rows = []
    for name, mv, bv in zip(methods, means, bands):
        if isinstance(bv, tuple):
            dn, up = bv
        else:
            dn, up = bv, bv
        assert len(mv) == 51 and len(dn) == 51 and len(up) == 51, (title, name)
        for s, v, a, b in zip(steps, mv, dn, up):
            rows.append({"step": s, "method": name, "mean": v, "lo": v - a, "hi": v + b})
    df = pd.DataFrame(rows)
    keys = ",".join(str(int(round(t * 1000))) for t in ticks)
    labs = ",".join("'" + l + "'" for l in labels)
    expr = f"[{labs}][indexof([{keys}], round(datum.value * 1000))]"

    xs = alt.Scale(domain=[-2.5, 52.5], nice=False, zero=False)
    ys = alt.Scale(domain=dom, nice=False, zero=False)

    x_minor_axis = alt.Axis(values=x_minor, labels=False, tickSize=2.5, tickWidth=0.8,
                            grid=True, gridColor=MINOR_GRID, gridDash=[1, 2], gridWidth=0.8,
                            domain=False, title=None, orient="bottom")
    y_minor_axis = alt.Axis(values=minor_ticks(dom[0], dom[1], mstep, ticks), labels=False,
                            tickSize=2.5, tickWidth=0.8, grid=True, gridColor=MINOR_GRID,
                            gridDash=[1, 2], gridWidth=0.8, domain=False, title=None,
                            orient="left")
    if bottom:
        x_major_axis = alt.Axis(values=x_major, labels=True, format="d", tickSize=4.5,
                                tickWidth=1, labelPadding=3, grid=True, gridColor=MAJOR_GRID,
                                gridDash=[4, 3], gridWidth=0.9, domain=False,
                                title="Training steps", titlePadding=7, orient="bottom")
    else:
        x_major_axis = alt.Axis(values=x_major, labels=False, tickSize=4.5, tickWidth=1,
                                grid=True, gridColor=MAJOR_GRID, gridDash=[4, 3],
                                gridWidth=0.9, domain=False, title=None, orient="bottom")
    if ytitle:
        y_major_axis = alt.Axis(values=ticks, labelExpr=expr, tickSize=4.5, tickWidth=1,
                                labelPadding=3, grid=True, gridColor=MAJOR_GRID,
                                gridDash=[4, 3], gridWidth=0.9, domain=False,
                                title=ytitle, titlePadding=7, orient="left")
    else:
        y_major_axis = alt.Axis(values=ticks, labelExpr=expr, tickSize=4.5, tickWidth=1,
                                labelPadding=3, grid=True, gridColor=MAJOR_GRID,
                                gridDash=[4, 3], gridWidth=0.9, domain=False,
                                title=None, orient="left")

    layers = []
    for i, name in enumerate(methods):
        sub = df[df["method"] == name]
        layers.append(alt.Chart(sub).mark_area(color=palette[i], opacity=0.22, clip=True).encode(
            x=alt.X("step:Q", scale=xs, axis=x_minor_axis if i == 0 else None),
            y=alt.Y("lo:Q", scale=ys, axis=y_minor_axis if i == 0 else None),
            y2="hi:Q",
        ))
    layers.append(alt.Chart(df).mark_line(strokeWidth=1.8, clip=True).encode(
        x=alt.X("step:Q", scale=xs, axis=x_major_axis),
        y=alt.Y("mean:Q", scale=ys, axis=y_major_axis),
        color=alt.Color("method:N", scale=cscale, legend=legend),
    ))
    ch = alt.layer(*layers).resolve_axis(x="independent", y="independent")
    if title:
        return ch.properties(width=PW, height=PH, title=alt.TitleParams(
            text=title, fontSize=15, font=FONT, fontWeight="normal", color="black",
            anchor="middle", frame="group", offset=2))
    return ch.properties(width=PW, height=PH)


panels = [
    panel([rb_perf_nopi, rb_perf_tram, rb_perf_gen, rb_perf_teacher],
          [rb_perf_nopi_sd, (rb_perf_tram_dn, rb_perf_tram_up), rb_perf_gen_sd, rb_perf_teacher_sd],
          [0.56, 0.75], rb_perf_ticks, rb_perf_labels, 0.005, titles[0], "Performance metric"),
    panel([hd_perf_nopi, hd_perf_tram, hd_perf_gen, hd_perf_teacher],
          [hd_perf_nopi_sd, (hd_perf_tram_dn, hd_perf_tram_up), hd_perf_gen_sd, hd_perf_teacher_sd],
          [0.56, 0.69], hd_perf_ticks, hd_perf_labels, 0.004, titles[1]),
    panel([nasa_perf_nopi, nasa_perf_tram, nasa_perf_gen, nasa_perf_teacher],
          [nasa_perf_nopi_sd, (nasa_perf_tram_dn, nasa_perf_tram_up), nasa_perf_gen_sd,
           nasa_perf_teacher_sd],
          [0.88, 0.92], nasa_perf_ticks, nasa_perf_labels, 0.002, titles[2]),
    panel([sd_perf_nopi, sd_perf_tram, sd_perf_gen, sd_perf_teacher],
          [sd_perf_nopi_sd, (sd_perf_tram_dn, sd_perf_tram_up), sd_perf_gen_sd, sd_perf_teacher_sd],
          [0.60, 0.7573], sd_perf_ticks, sd_perf_labels, 0.004, titles[3]),
    panel([rb_loss_nopi, rb_loss_tram, rb_loss_gen, rb_loss_teacher],
          [rb_loss_nopi_sd, rb_loss_tram_sd, rb_loss_gen_sd, rb_loss_teacher_sd],
          [0.185, 0.245], rb_loss_ticks, rb_loss_labels, 0.002, None, "Cross entropy loss",
          bottom=True),
    panel([hd_loss_nopi, hd_loss_tram, hd_loss_gen, hd_loss_teacher],
          [hd_loss_nopi_sd, (hd_loss_tram_dn, hd_loss_tram_up), hd_loss_gen_sd, hd_loss_teacher_sd],
          [0.235, 0.28], hd_loss_ticks, hd_loss_labels, 0.002, None, None, bottom=True),
    panel([nasa_loss_nopi, nasa_loss_tram, nasa_loss_gen, nasa_loss_teacher],
          [nasa_loss_nopi_sd, (nasa_loss_tram_dn, nasa_loss_tram_up), nasa_loss_gen_sd,
           nasa_loss_teacher_sd],
          [0.175, 0.23], nasa_loss_ticks, nasa_loss_labels, 0.002, None, None, bottom=True),
    panel([sd_loss_nopi, sd_loss_tram, sd_loss_gen, sd_loss_teacher],
          [sd_loss_nopi_sd, sd_loss_tram_sd, sd_loss_gen_sd, sd_loss_teacher_sd],
          [0.503, 0.70], sd_loss_ticks, sd_loss_labels, 0.005, None, None, bottom=True),
]

chart = alt.concat(
    *panels, columns=4, spacing=alt.RowColnumber(row=47, column=48.5), bounds="flush"
).properties(
    padding={"left": 8, "top": 3, "right": 0, "bottom": 0}
).configure(
    font=FONT
).configure_view(
    stroke="black", strokeWidth=1
).configure_axis(
    labelFont=FONT, labelFontSize=12.5, labelColor="black", tickColor="black",
    titleFont=FONT, titleFontSize=12.5, titleFontWeight="normal", titleColor="black"
).configure_legend(
    labelFont=FONT, labelFontSize=18.5, labelColor="black", symbolType="stroke",
    symbolSize=1730, symbolStrokeWidth=2, clipHeight=20, fillColor="white",
    strokeColor="#cccccc", cornerRadius=4, padding=7, labelOffset=13, columnPadding=46
)

chart.save("out.html", embed_options={"renderer": "svg", "actions": False})
